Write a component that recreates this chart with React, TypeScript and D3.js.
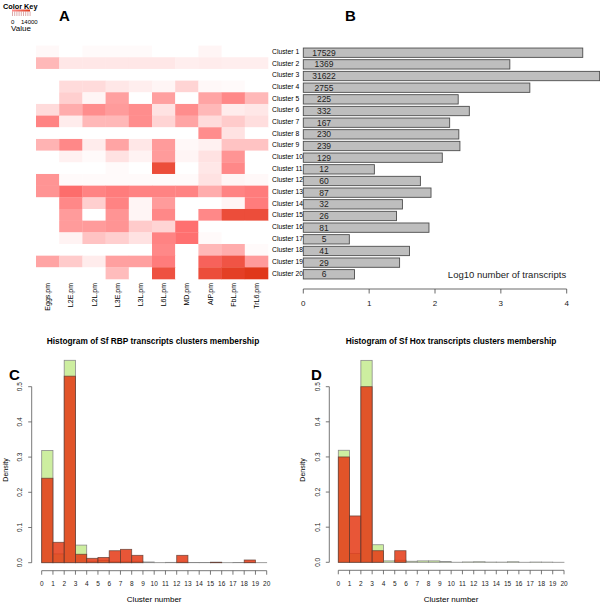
import React from "react";
import * as d3 from "d3";

const conditions = ["Eggs.pm", "L2E.pm", "L2L.pm", "L3E.pm", "L3L.pm", "L6L.pm", "MD.pm", "AIP.pm", "FbL.pm", "TrL6.pm"];
const clusters = ["Cluster 1", "Cluster 2", "Cluster 3", "Cluster 4", "Cluster 5", "Cluster 6", "Cluster 7", "Cluster 8", "Cluster 9", "Cluster 10",
  "Cluster 11", "Cluster 12", "Cluster 13", "Cluster 14", "Cluster 15", "Cluster 16", "Cluster 17", "Cluster 18", "Cluster 19", "Cluster 20"];
const transcriptCounts = [17529, 1369, 31622, 2755, 225, 332, 167, 230, 239, 129, 12, 60, 87, 32, 26, 81, 5, 41, 29, 6];

// scaled expression (0..1 of colour key 0..14000), rows = clusters, cols = conditions
const scaledExpr = [
  [0.03, 0, 0.02, 0.02, 0.02, 0, 0, 0.04, 0, 0],
  [0.3, 0.1, 0.1, 0.1, 0.1, 0.1, 0.07, 0.08, 0.07, 0.07],
  [0, 0, 0, 0, 0, 0, 0, 0, 0, 0],
  [0, 0.15, 0.15, 0.1, 0.07, 0.04, 0.18, 0.03, 0.02, 0],
  [0, 0.2, 0.04, 0.4, 0, 0.4, 0, 0.38, 0.5, 0.3],
  [0.15, 0.35, 0.48, 0.42, 0.48, 0.12, 0.48, 0.3, 0.08, 0.1],
  [0.52, 0.08, 0.3, 0.3, 0.48, 0.18, 0.38, 0.15, 0.22, 0.14],
  [0, 0, 0, 0, 0, 0, 0, 0.48, 0.12, 0],
  [0.32, 0.5, 0.08, 0.38, 0.1, 0.42, 0.03, 0.06, 0.25, 0.25],
  [0, 0.06, 0.02, 0.12, 0.05, 0.42, 0.04, 0.12, 0.45, 0],
  [0, 0, 0, 0.02, 0, 0.85, 0, 0.1, 0.5, 0],
  [0.45, 0.02, 0.02, 0.02, 0.02, 0.02, 0.02, 0.12, 0.04, 0.03],
  [0.45, 0.62, 0.52, 0.55, 0.52, 0.52, 0.52, 0.35, 0.52, 0.55],
  [0, 0.5, 0.2, 0.52, 0.04, 0.42, 0, 0, 0.04, 0.55],
  [0, 0.42, 0, 0.45, 0.04, 0.5, 0, 0.5, 0.85, 0.85],
  [0, 0.42, 0.42, 0.45, 0.22, 0.18, 0.6, 0, 0, 0],
  [0, 0.05, 0.25, 0.2, 0.12, 0.52, 0.6, 0.02, 0, 0],
  [0, 0, 0, 0, 0, 0.5, 0, 0.3, 0.35, 0.02],
  [0.38, 0.22, 0.08, 0.4, 0.4, 0.55, 0, 0.7, 0.8, 0.42],
  [0, 0, 0, 0.28, 0, 0.82, 0, 0.85, 0.95, 1.0],
];

const binStarts = [0, 1, 2, 3, 4, 5, 6, 7, 8, 9, 10, 11, 12, 13, 14, 15, 16, 17, 18, 19];
const allDensity = [0.319, 0.025, 0.575, 0.05, 0.004, 0.006, 0.003, 0.004, 0.004, 0.002, 0.0002, 0.001, 0.0016, 0.0006, 0.0005, 0.0015, 0.0001, 0.0007, 0.0005, 0.0001];
const rbpDensity = [0.24, 0.058, 0.53, 0.024, 0.0125, 0.015, 0.034, 0.038, 0.021, 0, 0, 0, 0.021, 0, 0, 0.001, 0, 0, 0.0077, 0];
const hoxDensity = [0.3, 0.132, 0.5, 0.033, 0, 0.033, 0, 0, 0, 0, 0, 0, 0, 0, 0, 0, 0, 0, 0, 0];
const densityTicks = [0, 0.1, 0.2, 0.3, 0.4, 0.5];
const clusterTicks = [0, 1, 2, 3, 4, 5, 6, 7, 8, 9, 10, 11, 12, 13, 14, 15, 16, 17, 18, 19, 20];
const log10Ticks = [0, 1, 2, 3, 4];

const FONT = "'Liberation Sans', Arial, sans-serif";
const GREEN = "#cdeea0";
const RED = "rgb(228,56,20)";

function Histogram({ x0, x1, y0, yTop, yAxisX, title, titleX, letter, letterX, sub }: any) {
  const x = d3.scaleLinear().domain([0, 20]).range([x0, x1]);
  const y = d3.scaleLinear().domain([0, 0.5]).range([y0, yTop]);
  const axisY = y0 + 8;
  return (
    <g>
      <text x={letterX} y={380} fontSize={15} fontWeight="bold" fontFamily={FONT}>{letter}</text>
      <text x={titleX} y={344} fontSize={8.3} fontWeight="bold" textAnchor="middle" fontFamily={FONT}>{title}</text>
      {binStarts.map((b, i) => (
        <rect key={"g" + i} x={x(b)} y={y(allDensity[i])} width={x(b + 1) - x(b)} height={y0 - y(allDensity[i])}
          fill={GREEN} stroke="#8a8a8a" strokeWidth={0.8} />
      ))}
      {binStarts.map((b, i) => (
        <rect key={"r" + i} x={x(b)} y={y(sub[i])} width={x(b + 1) - x(b)} height={y0 - y(sub[i])}
          fill={RED} fillOpacity={0.85} stroke="#5a3a30" strokeWidth={0.8} strokeOpacity={0.8} />
      ))}
      {/* y axis */}
      <line x1={yAxisX} x2={yAxisX} y1={y(0)} y2={y(0.5)} stroke="#555" strokeWidth={0.8} />
      {densityTicks.map((t) => (
        <g key={t}>
          <line x1={yAxisX - 3.5} x2={yAxisX} y1={y(t)} y2={y(t)} stroke="#555" strokeWidth={0.8} />
          <text transform={`translate(${yAxisX - 9.5},${y(t)}) rotate(-90)`} fontSize={6.5} textAnchor="middle" fontFamily={FONT} fill="#222">{t.toFixed(1)}</text>
        </g>
      ))}
      <text transform={`translate(${yAxisX - 24},${470}) rotate(-90)`} fontSize={7} textAnchor="middle" fontFamily={FONT}>Density</text>
      {/* x axis */}
      <line x1={x(0)} x2={x(20)} y1={axisY} y2={axisY} stroke="#555" strokeWidth={0.8} />
      {clusterTicks.map((t) => (
        <g key={t}>
          <line x1={x(t)} x2={x(t)} y1={axisY} y2={axisY + 4} stroke="#555" strokeWidth={0.8} />
          <text x={x(t)} y={586} fontSize={6.5} textAnchor="middle" fontFamily={FONT} fill="#222">{t}</text>
        </g>
      ))}
      <text x={(x0 + x1) / 2} y={602} fontSize={8} textAnchor="middle" fontFamily={FONT}>Cluster number</text>
    </g>
  );
}

export default function App() {
  const hx = d3.scaleBand().domain(conditions).range([36, 268]);
  const hy = d3.scaleBand().domain(clusters).range([45.6, 279]);
  const heatColor = d3.scaleLinear<string>().domain([0, 0.6, 1]).range(["#ffffff", "#ff7070", "#e0381a"]);

  const bx = d3.scaleLinear().domain([0, 4]).range([303.3, 566.7]);
  const by = d3.scaleBand().domain(clusters).range([46.87, 280.13]).paddingInner(0.2).paddingOuter(0.1);

  const keyTicks = [0, 1, 2, 3, 4, 5, 6, 7, 8];
  return (
    <svg width={600} height={603} style={{ position: "absolute", left: 0, top: 0, background: "#fff" }}>
      <rect x={0} y={0} width={600} height={603} fill="#fff" />
      {/* Colour key */}
      <text x={3} y={9} fontSize={7.3} fontWeight="bold" fontFamily={FONT}>Color Key</text>
      <defs>
        <linearGradient id="kg" x1="0" x2="1">
          <stop offset="0" stopColor="#ff9090" />
          <stop offset="1" stopColor="#e0381a" />
        </linearGradient>
      </defs>
      <rect x={12} y={9.5} width={18} height={2} fill="url(#kg)" />
      {keyTicks.map((k) => (
        <line key={k} x1={12.5 + k * 2.2} x2={12.5 + k * 2.2} y1={11.5} y2={16} stroke="#b55" strokeWidth={0.5} />
      ))}
      <text x={11} y={24} fontSize={6} fontFamily={FONT}>0</text>
      <text x={21} y={24} fontSize={6} fontFamily={FONT}>14000</text>
      <text x={11} y={31} fontSize={8} fontFamily={FONT}>Value</text>

      {/* Panel A */}
      <text x={59} y={21} fontSize={15} fontWeight="bold" fontFamily={FONT}>A</text>
      {scaledExpr.map((row, i) =>
        row.map((v, j) => (
          <rect key={i + "-" + j} x={hx(conditions[j])} y={hy(clusters[i])} width={hx.bandwidth() + 0.3} height={hy.bandwidth() + 0.3}
            fill={heatColor(v)} />
        ))
      )}
      {conditions.map((c) => (
        <text key={c} transform={`translate(${(hx(c) as number) + hx.bandwidth() / 2 + 2.5},283) rotate(-90)`} fontSize={7} textAnchor="end" fontFamily={FONT}>{c}</text>
      ))}
      {clusters.map((c) => (
        <text key={c} x={272} y={(hy(c) as number) + hy.bandwidth() / 2 + 2.5} fontSize={6.8} fontFamily={FONT}>{c}</text>
      ))}

      {/* Panel B */}
      <text x={345} y={21} fontSize={15} fontWeight="bold" fontFamily={FONT}>B</text>
      {clusters.map((c, i) => (
        <g key={c}>
          <rect x={bx(0)} y={by(c)} width={bx(Math.log10(transcriptCounts[i])) - bx(0)} height={by.bandwidth()}
            fill="#bebebe" stroke="#4d4d4d" strokeWidth={0.9} />
          <text x={324} y={(by(c) as number) + by.bandwidth() / 2 + 3} fontSize={8.5} textAnchor="middle" fontFamily={FONT} fill="#222">{transcriptCounts[i]}</text>
        </g>
      ))}
      <text x={507} y={278} fontSize={9.5} textAnchor="middle" fontFamily={FONT} fill="#222">Log10 number of transcripts</text>
      <line x1={bx(0)} x2={bx(4)} y1={289} y2={289} stroke="#444" strokeWidth={0.8} />
      {log10Ticks.map((t) => (
        <g key={t}>
          <line x1={bx(t)} x2={bx(t)} y1={289} y2={293.5} stroke="#444" strokeWidth={0.8} />
          <text x={bx(t)} y={306} fontSize={8} textAnchor="middle" fontFamily={FONT} fill="#222">{t}</text>
        </g>
      ))}

      {/* Panels C and D */}
      <Histogram x0={41.7} x1={266.7} y0={562.7} yTop={386.7} yAxisX={31.7}
        title="Histogram of Sf RBP transcripts clusters membership" titleX={153} letter="C" letterX={9} sub={rbpDensity} />
      <Histogram x0={338.3} x1={564} y0={562.3} yTop={386.7} yAxisX={329.3}
        title="Histogram of Sf Hox transcripts clusters membership" titleX={451} letter="D" letterX={311} sub={hoxDensity} />
    </svg>
  );
}
